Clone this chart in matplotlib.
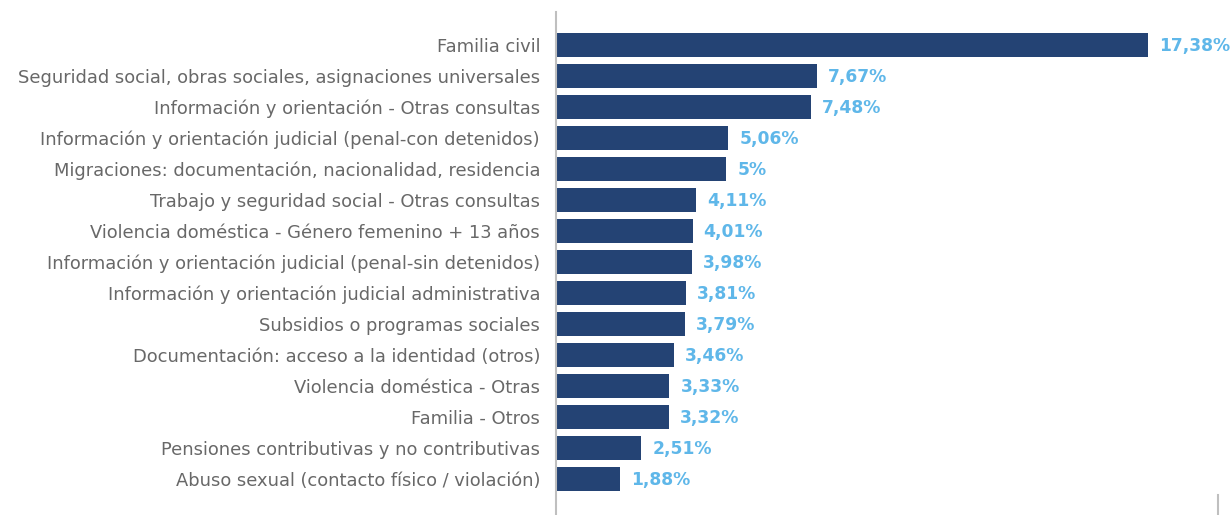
import matplotlib.pyplot as plt

categories = [
    "Familia civil",
    "Seguridad social, obras sociales, asignaciones universales",
    "Información y orientación - Otras consultas",
    "Información y orientación judicial (penal-con detenidos)",
    "Migraciones: documentación, nacionalidad, residencia",
    "Trabajo y seguridad social - Otras consultas",
    "Violencia doméstica - Género femenino + 13 años",
    "Información y orientación judicial (penal-sin detenidos)",
    "Información y orientación judicial administrativa",
    "Subsidios o programas sociales",
    "Documentación: acceso a la identidad (otros)",
    "Violencia doméstica - Otras",
    "Familia - Otros",
    "Pensiones contributivas y no contributivas",
    "Abuso sexual (contacto físico / violación)",
]
values = [17.38, 7.67, 7.48, 5.06, 5.0, 4.11, 4.01, 3.98, 3.81, 3.79, 3.46, 3.33, 3.32, 2.51, 1.88]
value_labels = ["17,38%", "7,67%", "7,48%", "5,06%", "5%", "4,11%", "4,01%", "3,98%",
                "3,81%", "3,79%", "3,46%", "3,33%", "3,32%", "2,51%", "1,88%"]

plt.rcParams["font.family"] = ["DejaVu Sans"]

fig = plt.figure(figsize=(12.32, 5.15), dpi=100)
ax = fig.add_axes([556 / 1232, 0, (1218 - 556) / 1232, 503 / 515])

pos = list(range(len(categories)))
ax.barh(pos, values, height=0.77, color="#244374")
for p, v, lab in zip(pos, values, value_labels):
    ax.annotate(lab, (v, p), xytext=(11, -1), textcoords="offset pixels",
                va="center", ha="left", fontsize=12.3, fontweight="bold", color="#5fb7e9")

ax.set_xlim(0, (1218 - 556) / ((1148 - 556) / 17.38))
ax.set_ylim(14 + 1.16, -1.065)
ax.set_yticks(pos)
ax.set_yticklabels(categories, fontsize=12.9, color="#686868")
ax.tick_params(axis="y", length=0, pad=11.5)
ax.set_xticks([])
for s in ["top", "right", "bottom"]:
    ax.spines[s].set_visible(False)
ax.spines["left"].set_color("#bfbfbf")
ax.spines["left"].set_linewidth(1.5)
ax.plot([1, 1], [0, 20 / 503], transform=ax.transAxes, color="#bfbfbf", lw=1.5, clip_on=False)

fig.savefig("out.png", dpi=100)
